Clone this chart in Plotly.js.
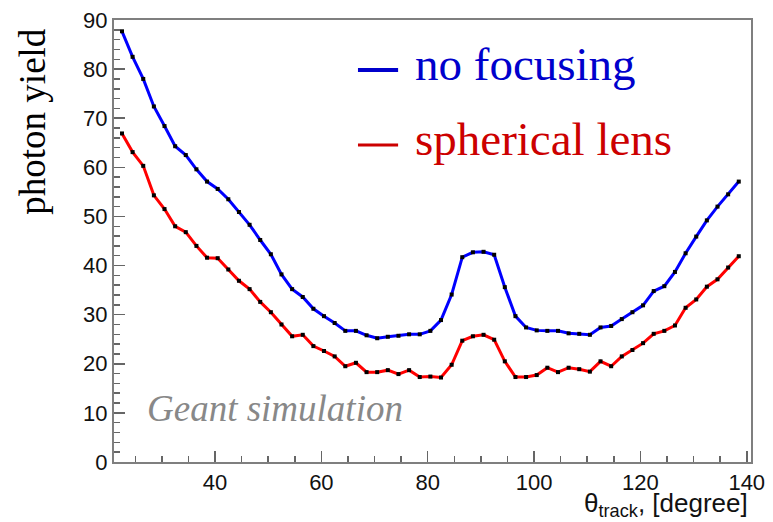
<!DOCTYPE html>
<html>
<head>
<meta charset="utf-8">
<script src="https://cdn.plot.ly/plotly-3.0.1.min.js"></script>
<style>html,body{margin:0;padding:0;background:#fff;}#chart{width:773px;height:522px;}</style>
</head>
<body>
<div id="chart"></div>
<script>
var theta = [22.5,24.5,26.5,28.5,30.5,32.5,34.5,36.5,38.5,40.5,
             42.5,44.5,46.5,48.5,50.5,52.5,54.5,56.5,58.5,60.5,
             62.5,64.5,66.5,68.5,70.5,72.5,74.5,76.5,78.5,80.5,
             82.5,84.5,86.5,88.5,90.5,92.5,94.5,96.5,98.5,100.5,
             102.5,104.5,106.5,108.5,110.5,112.5,114.5,116.5,118.5,120.5,
             122.5,124.5,126.5,128.5,130.5,132.5,134.5,136.5,138.5];
var noFocusing = [87.7,82.5,78.0,72.4,68.4,64.3,62.5,59.6,57.1,55.6,
                  53.5,50.9,48.3,45.2,42.3,38.2,35.2,33.6,31.2,29.7,
                  28.3,26.7,26.7,25.8,25.2,25.5,25.7,26.0,26.0,26.7,
                  28.9,34.1,41.7,42.7,42.8,42.2,35.6,29.7,27.4,26.8,
                  26.7,26.7,26.2,26.1,25.9,27.4,27.7,29.1,30.5,31.9,
                  34.8,35.8,38.7,42.5,45.9,49.2,52.0,54.5,57.1];
var sphericalLens = [66.9,63.1,60.3,54.3,51.5,48.0,46.8,44.0,41.6,41.5,
                     39.2,36.9,35.2,32.6,30.5,28.0,25.6,25.9,23.6,22.6,
                     21.5,19.5,20.2,18.3,18.3,18.7,17.9,18.7,17.3,17.4,
                     17.2,19.8,24.7,25.6,25.9,24.9,20.5,17.3,17.3,17.7,
                     19.2,18.3,19.2,18.9,18.4,20.5,19.5,21.5,22.8,24.2,
                     26.1,26.7,27.8,31.4,33.1,35.7,37.2,39.6,41.9];
var seriesNames = ["no focusing", "spherical lens"];
var yTicks = [0,10,20,30,40,50,60,70,80,90];
var xTicks = [40,60,80,100,120,140];

var marker = {symbol: "square", size: 4, color: "#000000"};
var traces = [
  {x: theta, y: noFocusing, name: seriesNames[0], type: "scatter", mode: "lines+markers",
   line: {color: "#0000ff", width: 3}, marker: marker},
  {x: theta, y: sphericalLens, name: seriesNames[1], type: "scatter", mode: "lines+markers",
   line: {color: "#ff0000", width: 3}, marker: marker}
];

var serif = "'Liberation Serif', 'Times New Roman', serif";
var sans = "'Liberation Sans', Arial, sans-serif";
var tickFont = {family: sans, size: 22, color: "#111111"};
var layout = {
  width: 773, height: 522,
  margin: {l: 114, r: 22, t: 20, b: 60},
  paper_bgcolor: "#ffffff", plot_bgcolor: "#ffffff",
  showlegend: false,
  xaxis: {
    range: [21, 140.8], tickmode: "array", tickvals: xTicks, ticktext: xTicks.map(String),
    ticks: "inside", ticklen: 11, tickwidth: 1.5, tickcolor: "#666666",
    minor: {dtick: 5, ticks: "inside", ticklen: 6, tickwidth: 1.5, tickcolor: "#666666"},
    showline: true, linecolor: "#7f7f7f", linewidth: 2, mirror: true,
    showgrid: false, zeroline: false, tickfont: tickFont
  },
  yaxis: {
    range: [0, 90], tickmode: "array", tickvals: yTicks, ticktext: yTicks.map(String),
    ticks: "inside", ticklen: 11, tickwidth: 1.5, tickcolor: "#666666",
    minor: {dtick: 2, ticks: "inside", ticklen: 6, tickwidth: 1.5, tickcolor: "#666666"},
    showline: true, linecolor: "#7f7f7f", linewidth: 2, mirror: true,
    showgrid: false, zeroline: false, tickfont: tickFont
  },
  shapes: [
    {type: "line", xref: "paper", yref: "paper", x0: 0.383, x1: 0.446, y0: 0.887, y1: 0.887,
     line: {color: "#0000cc", width: 4}},
    {type: "line", xref: "paper", yref: "paper", x0: 0.383, x1: 0.446, y0: 0.717, y1: 0.717,
     line: {color: "#cc0000", width: 3}}
  ],
  annotations: [
    {text: seriesNames[0], xref: "paper", yref: "paper", x: 0.469, y: 0.90, xanchor: "left", yanchor: "middle",
     showarrow: false, font: {family: serif, size: 47, color: "#0000cc"}},
    {text: seriesNames[1], xref: "paper", yref: "paper", x: 0.469, y: 0.731, xanchor: "left", yanchor: "middle",
     showarrow: false, font: {family: serif, size: 47, color: "#cc0000"}},
    {text: "Geant simulation", xref: "paper", yref: "paper", x: 0.0487, y: 0.122, xanchor: "left", yanchor: "middle",
     showarrow: false, font: {family: serif, size: 37, color: "#888888", style: "italic"}},
    {text: "photon yield", xref: "paper", yref: "paper", x: -0.128, y: 0.771, xanchor: "center", yanchor: "middle",
     textangle: -90, showarrow: false, font: {family: serif, size: 37, color: "#000000"}},
    {text: "θ<sub>track</sub>, [degree]", xref: "paper", yref: "paper", x: 0.998, y: -0.097, xanchor: "right", yanchor: "middle",
     showarrow: false, font: {family: sans, size: 26, color: "#111111"}}
  ]
};
Plotly.newPlot("chart", traces, layout, {displayModeBar: false, staticPlot: true});
</script>
</body>
</html>
